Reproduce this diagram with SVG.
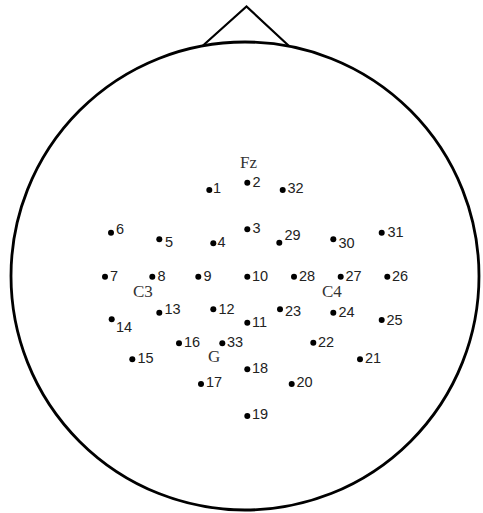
<svg xmlns="http://www.w3.org/2000/svg" width="483" height="513" viewBox="0 0 483 513">
<style>
.head{fill:none;stroke:#000;stroke-width:2.8}
.nose{fill:none;stroke:#000;stroke-width:2.2;stroke-linejoin:miter}
.d{fill:#000}
.n{font-family:"Liberation Sans",Arial,sans-serif;font-size:14.5px;fill:#222}
.s{font-family:"Liberation Serif","Times New Roman",serif;font-size:17px;fill:#333}
</style>
<rect width="483" height="513" fill="#fff"/>
<g id="head">
<polyline class="nose" points="203,45.5 246.5,6.5 289,46"/>
<circle class="head" cx="245" cy="276" r="234"/>
</g>
<g id="refs">
<text class="s" x="240" y="168">Fz</text>
<text class="s" x="133" y="297">C3</text>
<text class="s" x="322" y="297">C4</text>
<text class="s" x="208" y="362">G</text>
</g>
<g id="connectors"/>
<g id="e1"><circle class="d" cx="209.3" cy="190" r="3"/><text class="n" x="213" y="193">1</text></g>
<g id="e2"><circle class="d" cx="247.3" cy="182.7" r="3"/><text class="n" x="252.5" y="186.5">2</text></g>
<g id="e32"><circle class="d" cx="282.7" cy="190" r="3"/><text class="n" x="287.5" y="193">32</text></g>
<g id="e6"><circle class="d" cx="111" cy="232.7" r="3"/><text class="n" x="116" y="234">6</text></g>
<g id="e5"><circle class="d" cx="159.3" cy="239.3" r="3"/><text class="n" x="165" y="247">5</text></g>
<g id="e4"><circle class="d" cx="213.3" cy="243.3" r="3"/><text class="n" x="217.5" y="247">4</text></g>
<g id="e3"><circle class="d" cx="247.3" cy="229.3" r="3"/><text class="n" x="252.5" y="233">3</text></g>
<g id="e29"><circle class="d" cx="279.3" cy="242.7" r="3"/><text class="n" x="284.5" y="240">29</text></g>
<g id="e30"><circle class="d" cx="333.3" cy="239.3" r="3"/><text class="n" x="338.5" y="248">30</text></g>
<g id="e31"><circle class="d" cx="381.7" cy="232.7" r="3"/><text class="n" x="387.5" y="237">31</text></g>
<g id="e7"><circle class="d" cx="105" cy="276.7" r="3"/><text class="n" x="110" y="280.7">7</text></g>
<g id="e8"><circle class="d" cx="152.3" cy="276.7" r="3"/><text class="n" x="157.5" y="280.7">8</text></g>
<g id="e9"><circle class="d" cx="198.3" cy="276.7" r="3"/><text class="n" x="203.5" y="280.7">9</text></g>
<g id="e10"><circle class="d" cx="247.3" cy="276.7" r="3"/><text class="n" x="252" y="280.7">10</text></g>
<g id="e28"><circle class="d" cx="294" cy="276.7" r="3"/><text class="n" x="299" y="280.7">28</text></g>
<g id="e27"><circle class="d" cx="340.7" cy="276.7" r="3"/><text class="n" x="345.5" y="280.7">27</text></g>
<g id="e26"><circle class="d" cx="387.3" cy="276.7" r="3"/><text class="n" x="392" y="280.7">26</text></g>
<g id="e13"><circle class="d" cx="159.3" cy="312.7" r="3"/><text class="n" x="164.5" y="314">13</text></g>
<g id="e12"><circle class="d" cx="213.3" cy="309.3" r="3"/><text class="n" x="218.5" y="314">12</text></g>
<g id="e14"><circle class="d" cx="111.7" cy="319.3" r="3"/><text class="n" x="116" y="331.5">14</text></g>
<g id="e23"><circle class="d" cx="280" cy="309.3" r="3"/><text class="n" x="285" y="316">23</text></g>
<g id="e24"><circle class="d" cx="333.3" cy="312.7" r="3"/><text class="n" x="338.5" y="316.5">24</text></g>
<g id="e25"><circle class="d" cx="381.7" cy="320" r="3"/><text class="n" x="386.5" y="325">25</text></g>
<g id="e11"><circle class="d" cx="247.3" cy="322.7" r="3"/><text class="n" x="252" y="327">11</text></g>
<g id="e16"><circle class="d" cx="179" cy="343.3" r="3"/><text class="n" x="184" y="347">16</text></g>
<g id="e33"><circle class="d" cx="222.3" cy="343.3" r="3"/><text class="n" x="227" y="347">33</text></g>
<g id="e22"><circle class="d" cx="313.3" cy="342.7" r="3"/><text class="n" x="318" y="346.5">22</text></g>
<g id="e15"><circle class="d" cx="132.3" cy="359.3" r="3"/><text class="n" x="137.5" y="362.5">15</text></g>
<g id="e21"><circle class="d" cx="360" cy="359.3" r="3"/><text class="n" x="365" y="362.5">21</text></g>
<g id="e18"><circle class="d" cx="247.3" cy="369.3" r="3"/><text class="n" x="252" y="373.3">18</text></g>
<g id="e17"><circle class="d" cx="201" cy="384" r="3"/><text class="n" x="206" y="387">17</text></g>
<g id="e20"><circle class="d" cx="291.7" cy="384" r="3"/><text class="n" x="296.5" y="387.3">20</text></g>
<g id="e19"><circle class="d" cx="247.3" cy="416" r="3"/><text class="n" x="252" y="419">19</text></g>
</svg>
